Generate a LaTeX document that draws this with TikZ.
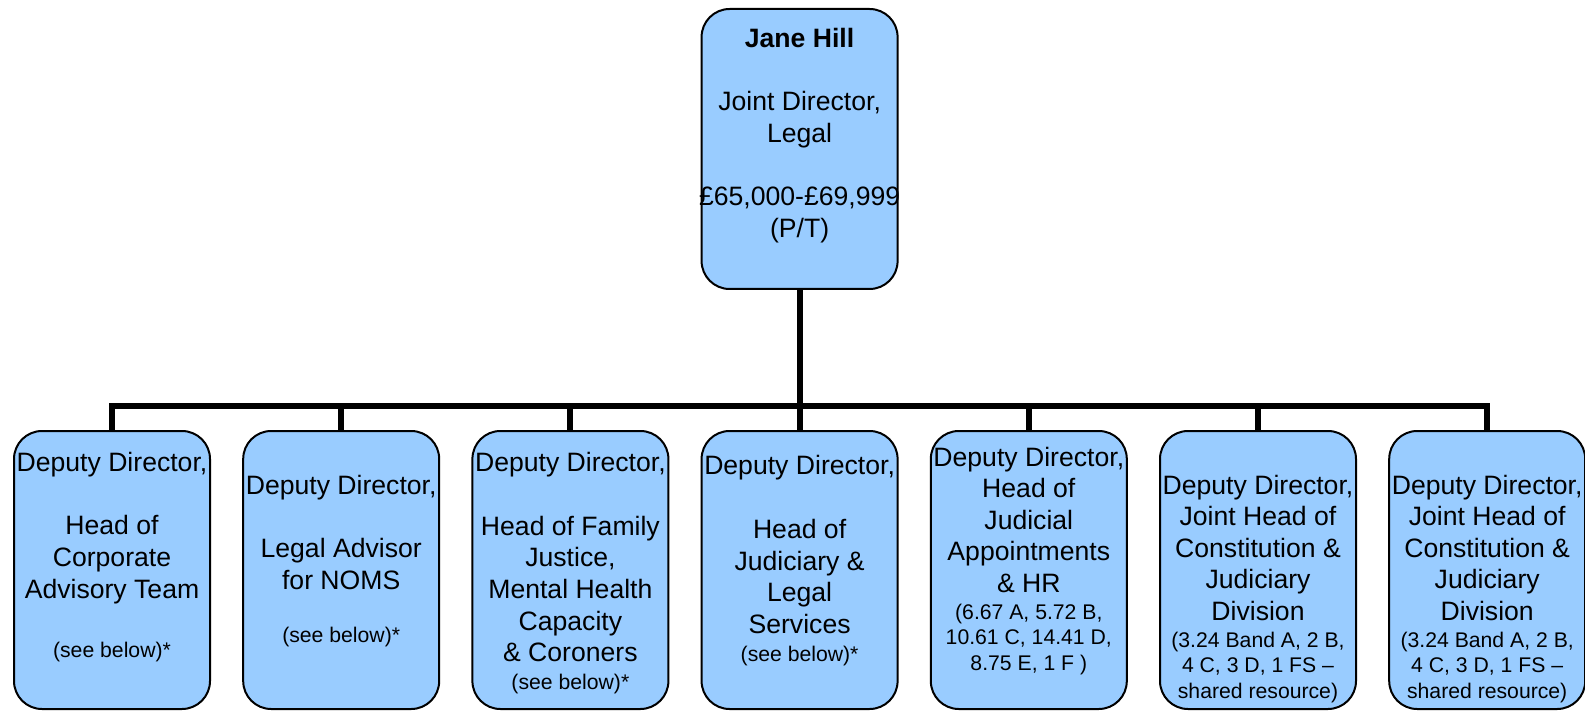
\documentclass[tikz,border=0pt]{standalone}
\usepackage{fontspec}
\setmainfont{Liberation Sans}
\newcommand\txtL{\fontsize{26.6}{31.6}\selectfont}
\newcommand\txtS{\fontsize{21.2}{25.8}\selectfont}
\newcommand\boxtext[1]{\parbox[t]{260pt}{\centering #1}}
\definecolor{boxblue}{HTML}{99CCFF}
\tikzset{
  unit/.style={draw=black, line width=2pt, fill=boxblue, rounded corners=28pt,
    minimum width=196pt, minimum height=278pt, inner sep=0pt},
  link/.style={draw=black, line width=6pt, line join=miter},
  caption/.style={anchor=base, inner sep=0pt},
}
\begin{document}
\begin{tikzpicture}[x=1pt,y=-1pt]
\useasboundingbox (0,0) rectangle (1585,711);

% boxes
\node[unit, minimum height=280pt] (root) at (799.6,149) {};
\node[unit] (d1) at (112,570) {};
\node[unit] (d2) at (341.2,570) {};
\node[unit] (d3) at (570.4,570) {};
\node[unit] (d4) at (799.6,570) {};
\node[unit] (d5) at (1028.8,570) {};
\node[unit] (d6) at (1258,570) {};
\node[unit] (d7) at (1487.2,570) {};

% connectors
\coordinate (bus) at (0,406.3);
\draw[link] (d1.north) -- (d1.north |- bus) -- (d7.north |- bus) -- (d7.north);
\foreach \n in {2,...,6} \draw[link] (d\n.north) -- (d\n.north |- bus);
\draw[link] (root.south) -- (root.south |- bus);

% texts
\node[caption] (t0) at (799.6,47.7) {\boxtext{\txtL {\bfseries Jane Hill}\\[31.6pt]Joint Director,\\Legal\\[31.6pt]£65,000-£69,999\\(P/T)}};

\node[caption] (t1) at (112,471.7) {\boxtext{\txtL Deputy Director,\\[31.6pt]Head of\\Corporate\\Advisory Team\par\vspace{33.5pt}\txtS (see below)*\par}};

\node[caption] (t2) at (341.2,494.3) {\boxtext{\txtL Deputy Director,\\[31.6pt]Legal Advisor\\for NOMS\par\vspace{27.2pt}\txtS (see below)*\par}};

\node[caption] (t3) at (570.4,471) {\boxtext{\txtL Deputy Director,\\[32.6pt]Head of Family\\Justice,\\Mental Health\\Capacity\\\& Coroners\par\vspace{1.9pt}\txtS (see below)*\par}};

\node[caption] (t4) at (799.6,474.3) {\boxtext{\txtL Deputy Director,\\[32.6pt]Head of\\Judiciary \&\\Legal\\Services\par\vspace{1.9pt}\txtS (see below)*\par}};

\node[caption] (t5) at (1028.8,466) {\boxtext{\txtL Deputy Director,\\Head of\\Judicial\\Appointments\\\& HR\par\vspace{0.8pt}\txtS (6.67 A, 5.72 B,\\10.61 C, 14.41 D,\\8.75 E, 1 F )\par}};

\node[caption] (t6) at (1258,494) {\boxtext{\txtL Deputy Director,\\Joint Head of\\Constitution \&\\Judiciary\\Division\par\vspace{0.8pt}\txtS (3.24 Band A, 2 B,\\4 C, 3 D, 1 FS –\\shared resource)\par}};

\node[caption] (t7) at (1487.2,494) {\boxtext{\txtL Deputy Director,\\Joint Head of\\Constitution \&\\Judiciary\\Division\par\vspace{0.8pt}\txtS (3.24 Band A, 2 B,\\4 C, 3 D, 1 FS –\\shared resource)\par}};
\end{tikzpicture}
\end{document}
